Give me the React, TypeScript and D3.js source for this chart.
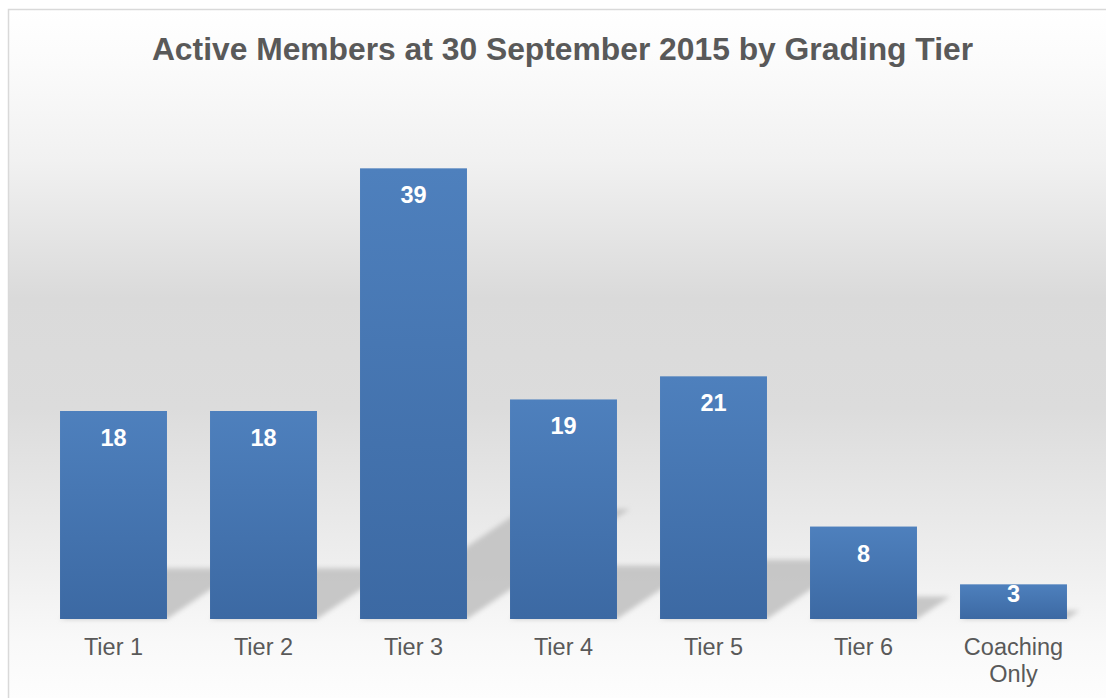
import { useRef, useEffect } from 'react';
import * as d3 from 'd3';

// Active members per grading tier, 30 Sep 2015
const categories = ['Tier 1', 'Tier 2', 'Tier 3', 'Tier 4', 'Tier 5', 'Tier 6', 'Coaching Only'];
const members = [18, 18, 39, 19, 21, 8, 3];
const yDomain = [0, 45];

const W = 1106;
const H = 698;
const PLOT = { left: 38.5, right: 1088.5, top: 99, bottom: 619 };
const FONT = '"Liberation Sans", Arial, sans-serif';
const TEXT = '#595959';

// perspective shadow: height ratio and horizontal skew per px of shadow height
const SHADOW_K = 0.244;
const SHADOW_SKEW = 1.48;

export default function App() {
  const svgRef = useRef<SVGSVGElement>(null);

  useEffect(() => {
    if (!svgRef.current) return;
    const svg = d3.select(svgRef.current);
    svg.selectAll('*').remove();

    const defs = svg.append('defs');

    const bg = defs.append('linearGradient')
      .attr('id', 'bg').attr('gradientUnits', 'userSpaceOnUse')
      .attr('x1', 0).attr('x2', 0).attr('y1', 9).attr('y2', H);
    [
      [0, '#ffffff'],
      [0.08, '#fbfbfb'],
      [0.22, '#f1f1f1'],
      [0.42, '#dadada'],
      [0.58, '#dcdcdc'],
      [0.8, '#eeeeee'],
      [0.92, '#f9f9f9'],
      [1, '#fdfdfd'],
    ].forEach(([o, c]) => bg.append('stop').attr('offset', o as number).attr('stop-color', c as string));

    const barGrad = defs.append('linearGradient')
      .attr('id', 'bar').attr('x1', 0).attr('x2', 0).attr('y1', 0).attr('y2', 1);
    barGrad.append('stop').attr('offset', 0).attr('stop-color', '#4e80bd');
    barGrad.append('stop').attr('offset', 1).attr('stop-color', '#3c69a3');

    defs.append('filter')
      .attr('id', 'blur').attr('x', '-20%').attr('y', '-20%').attr('width', '140%').attr('height', '140%')
      .append('feGaussianBlur').attr('stdDeviation', 2.5);

    // chart area + border
    svg.append('rect')
      .attr('x', 8.5).attr('y', 9.5).attr('width', W + 20).attr('height', H + 20)
      .attr('fill', 'url(#bg)').attr('stroke', '#d9d9d9').attr('stroke-width', 1.5);

    const x = d3.scaleBand<string>()
      .domain(categories)
      .range([PLOT.left, PLOT.right])
      .paddingInner(0.287)
      .paddingOuter(0.1435);

    const y = d3.scaleLinear().domain(yDomain).range([PLOT.bottom, PLOT.top]);

    const data = categories.map((c, i) => ({ cat: c, v: members[i] }));

    // shadows behind all bars
    svg.append('g')
      .attr('filter', 'url(#blur)')
      .selectAll('path')
      .data(data)
      .join('path')
      .attr('fill', '#c2c2c2')
      .attr('fill-opacity', 0.9)
      .attr('d', (d) => {
        const x0 = x(d.cat)!;
        const x1 = x0 + x.bandwidth();
        const base = y(0);
        const sh = (base - y(d.v)) * SHADOW_K;
        const dx = sh * SHADOW_SKEW;
        const p = d3.path();
        p.moveTo(x0, base);
        p.lineTo(x1, base);
        p.lineTo(x1 + dx, base - sh);
        p.lineTo(x0 + dx, base - sh);
        p.closePath();
        return p.toString();
      });

    // bars
    svg.append('g')
      .selectAll('rect')
      .data(data)
      .join('rect')
      .attr('x', (d) => x(d.cat)!)
      .attr('y', (d) => y(d.v))
      .attr('width', x.bandwidth())
      .attr('height', (d) => y(0) - y(d.v))
      .attr('fill', 'url(#bar)');

    // value labels, inside end
    svg.append('g')
      .selectAll('text')
      .data(data)
      .join('text')
      .attr('x', (d) => x(d.cat)! + x.bandwidth() / 2)
      .attr('y', (d) => {
        const h = y(0) - y(d.v);
        return y(d.v) + Math.min(35, h * 0.52);
      })
      .attr('text-anchor', 'middle')
      .attr('font-family', FONT)
      .attr('font-weight', 'bold')
      .attr('font-size', 23.5)
      .attr('fill', '#ffffff')
      .text((d) => d.v);

    // category labels
    const ticks = svg.append('g')
      .selectAll('text')
      .data(categories)
      .join('text')
      .attr('x', (d) => x(d)! + x.bandwidth() / 2)
      .attr('y', 655)
      .attr('text-anchor', 'middle')
      .attr('font-family', FONT)
      .attr('font-size', 23.5)
      .attr('fill', TEXT);
    ticks.each(function (d) {
      const lines = d.length > 8 ? d.split(' ') : [d];
      const t = d3.select(this);
      lines.forEach((ln, i) => {
        t.append('tspan')
          .attr('x', x(d)! + x.bandwidth() / 2)
          .attr('dy', i === 0 ? 0 : 27)
          .text(ln);
      });
    });

    // title
    svg.append('text')
      .attr('x', 562.5)
      .attr('y', 60)
      .attr('text-anchor', 'middle')
      .attr('font-family', FONT)
      .attr('font-weight', 'bold')
      .attr('font-size', 31.8)
      .attr('fill', TEXT)
      .text('Active Members at 30 September 2015 by Grading Tier');
  }, []);

  return (
    <svg
      ref={svgRef}
      width={W}
      height={H}
      style={{ position: 'absolute', left: 0, top: 0, display: 'block' }}
    />
  );
}
